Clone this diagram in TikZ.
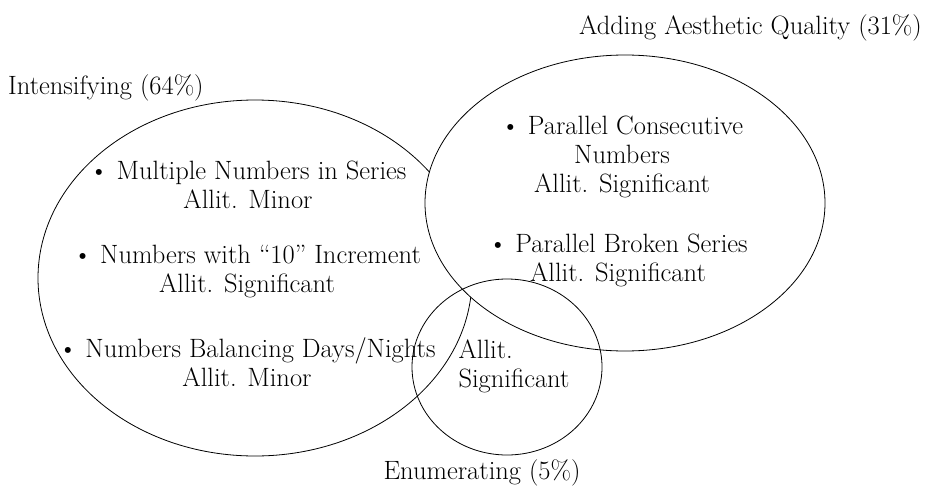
\documentclass[tikz,border=0pt]{standalone}
\usepackage{fontspec}
\begin{document}
\begin{tikzpicture}[x=1pt,y=-1pt,
    every node/.style={font=\fontsize{26.5}{29}\selectfont,inner sep=0pt},
    set/.style={draw,line width=0.8pt},
    item/.style={align=center}]
        \useasboundingbox (0,0) rectangle (928,487);

        % the three sets
        \draw[set] (255,278) ellipse [x radius=217, y radius=178];
        \draw[set,fill=white] (625,203) ellipse [x radius=200, y radius=148];
        \draw[set] (507,367) ellipse [x radius=95, y radius=88];

        % set names
        \node[anchor=west] (intens) at (8,88) {Intensifying (64\%)};
        \node[anchor=east] (aesth) at (922,28) {Adding Aesthetic Quality (31\%)};
        \node (enum) at (482,473) {Enumerating (5\%)};

        % items in the intensifying set
        \node[item] (mult) at (248,185) {\textbullet\ Multiple Numbers in Series\\Allit. Minor};
        \node[item] (incr) at (247,272) {\textbullet\ Numbers with “10” Increment\\Allit. Significant};
        \node[item] (days) at (247,362) {\textbullet\ Numbers Balancing Days/Nights\\Allit. Minor};

        % items in the aesthetic set
        \node[item] (cons) at (622,157) {\textbullet\ Parallel Consecutive\\Numbers\\Allit. Significant};
        \node[item] (brok) at (618,260) {\textbullet\ Parallel Broken Series\\Allit. Significant};

        % the enumerating set
        \node[align=left] (allit) at (514,366) {Allit.\\Significant};
\end{tikzpicture}
\end{document}
